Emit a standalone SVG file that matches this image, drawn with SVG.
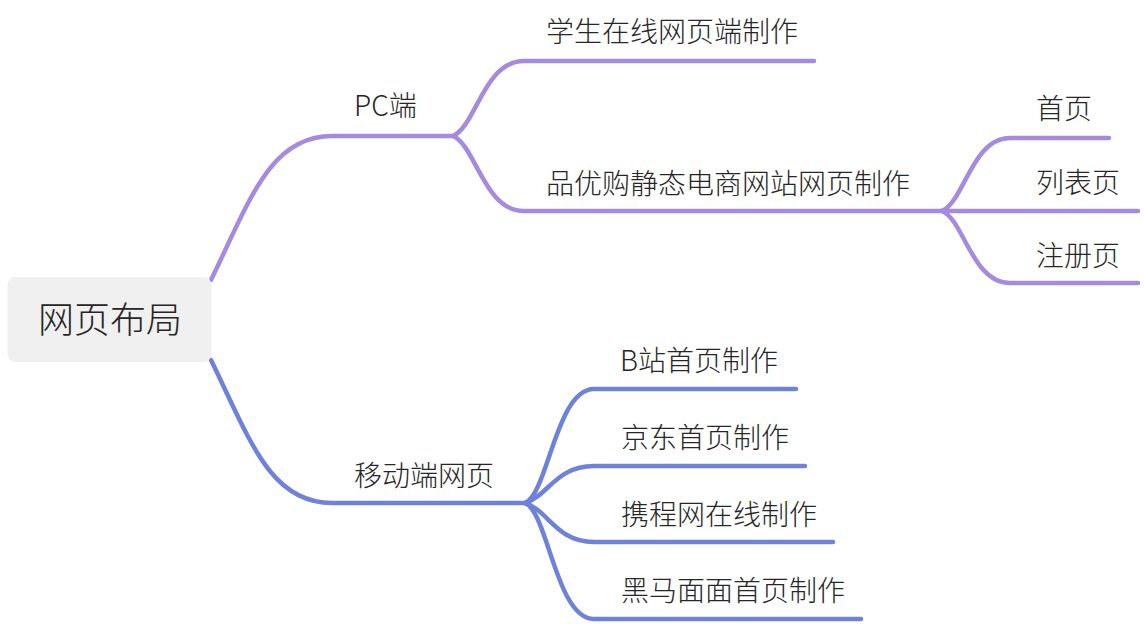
<svg xmlns="http://www.w3.org/2000/svg" width="1144" height="624" viewBox="0 0 1144 624">
<style>
.t{font-family:"Noto Sans CJK SC","Noto Sans",sans-serif;font-size:28px;font-weight:300;fill:#262626}
.root{font-family:"Noto Sans CJK SC","Noto Sans",sans-serif;font-size:36px;font-weight:300;fill:#262626}
.p{fill:none;stroke:#A58BDE;stroke-width:4.5;stroke-linecap:round}
.b{fill:none;stroke:#6F82D9;stroke-width:4.5;stroke-linecap:round}
</style>
<rect width="1144" height="624" fill="#ffffff"/>
<g id="connectors">
<path class="p" d="M211 280 C250 200 270 136 332 136 L453 136"/>
<path class="p" d="M453 136 C476 126 484 61 524 61 L814 61"/>
<path class="p" d="M453 136 C476 146 484 211 524 211 L942 211"/>
<path class="p" d="M942 211 C964 202 972 138 1010 138 L1109 138"/>
<path class="p" d="M942 211 L1138 211"/>
<path class="p" d="M942 211 C964 220 972 283 1010 283 L1138 283"/>
<path class="b" d="M211 360 C250 440 270 503 332 503 L525 503"/>
<path class="b" d="M525 503 C548 494 556 389 594 389 L796 389"/>
<path class="b" d="M525 503 C548 496 556 466 594 466 L805 466"/>
<path class="b" d="M525 503 C548 510 556 542 594 542 L833 542"/>
<path class="b" d="M525 503 C548 512 556 619 594 619 L861 619"/>
</g>
<g id="root">
<rect x="7.5" y="277" width="204" height="85" rx="8" fill="#EFF0EF"/>
<text class="root" x="110" y="333" text-anchor="middle">网页布局</text>
</g>
<g id="pc"><text class="t" x="354" y="116">PC端</text></g>
<g id="student"><text class="t" x="546" y="42">学生在线网页端制作</text></g>
<g id="pinyougou"><text class="t" x="546" y="194">品优购静态电商网站网页制作</text></g>
<g id="home"><text class="t" x="1036" y="119">首页</text></g>
<g id="list"><text class="t" x="1036" y="193">列表页</text></g>
<g id="register"><text class="t" x="1036" y="266">注册页</text></g>
<g id="mobile"><text class="t" x="354" y="486">移动端网页</text></g>
<g id="bili"><text class="t" x="620" y="371">B站首页制作</text></g>
<g id="jd"><text class="t" x="621" y="448">京东首页制作</text></g>
<g id="ctrip"><text class="t" x="621" y="525">携程网在线制作</text></g>
<g id="heima"><text class="t" x="621" y="601">黑马面面首页制作</text></g>
</svg>
